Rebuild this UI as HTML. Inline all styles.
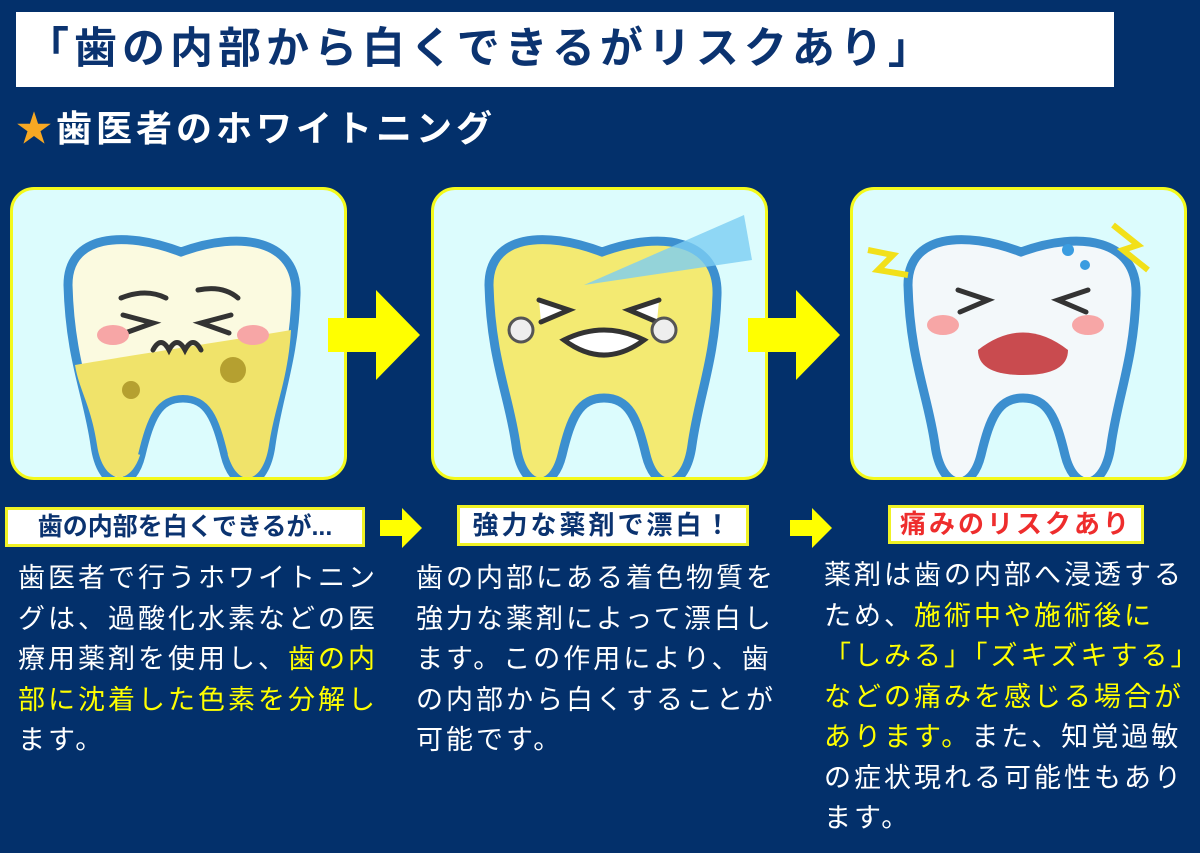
<!DOCTYPE html>
<html><head><meta charset="utf-8"><style>
*{margin:0;padding:0;box-sizing:border-box}
body{width:1200px;height:853px;background:#03306b;position:relative;overflow:hidden;font-family:"Liberation Sans","Noto Sans CJK JP",sans-serif;font-weight:bold}
.title{position:absolute;left:16px;top:12px;width:1098px;height:75px;background:#fff;color:#0b3370;font-size:43px;line-height:75px;padding-left:10px;letter-spacing:5px;white-space:nowrap}
.sub{position:absolute;left:16px;top:104px;color:#fff;font-size:36px;line-height:50px;letter-spacing:4px;white-space:nowrap}
.sub span{color:#f7a823}
.panel{position:absolute;top:187px;width:337px;height:293px;background:#dcfcfd;border:3px solid #f4f91c;border-radius:24px;overflow:hidden}
.arrow{position:absolute}
.lab{position:absolute;background:#fff;border:3px solid #f0f225;color:#0b3370;font-size:25px;text-align:center;white-space:nowrap}
.txt{position:absolute;color:#fff;font-size:27px;line-height:40.5px;font-weight:normal;letter-spacing:3px;white-space:nowrap}
.y{color:#ffff00}
</style></head><body>
<div class="title">「歯の内部から白くできるがリスクあり」</div>
<div class="sub"><span>★</span>歯医者のホワイトニング</div>

<svg width="0" height="0" style="position:absolute"><defs>
<path id="tooth" d="M55,95 C55,45 110,40 168,62 C228,40 285,50 283,105 C281,170 265,205 258,255 C252,300 222,305 212,265 C203,228 195,208 170,208 C145,208 137,228 128,265 C118,305 88,300 82,255 C75,205 57,170 55,95 Z"/>
</defs></svg>

<div class="panel" style="left:10px"><svg width="337" height="293">
<use href="#tooth" fill="#fbfae0" stroke="#3c8fcf" stroke-width="9"/>
<path d="M62,175 C120,165 220,150 278,140 C275,190 262,215 256,255 C250,295 224,300 214,262 C205,228 195,208 170,208 C145,208 137,228 128,262 C118,298 90,295 84,255 C78,215 66,200 62,175Z" fill="#f0e36a"/>
<path d="M128,265 C137,228 145,208 170,208 C195,208 203,228 212,265" fill="none" stroke="#3c8fcf" stroke-width="6"/>
<circle cx="118" cy="200" r="9" fill="#b5a030"/><circle cx="220" cy="180" r="13" fill="#b5a030"/>
<path d="M108,108 q25,-10 45,0 M185,100 q25,-5 40,8 M110,125 l30,8 l-28,10 M218,125 l-30,8 l28,10 M140,160 q8,-15 16,0 q8,-15 16,0 q8,-15 16,0" stroke="#333" stroke-width="5" fill="none" stroke-linecap="round"/>
<ellipse cx="100" cy="145" rx="16" ry="10" fill="#f7a6a6"/><ellipse cx="240" cy="145" rx="16" ry="10" fill="#f7a6a6"/>
</svg></div>

<div class="panel" style="left:431px"><svg width="337" height="293">
<use href="#tooth" fill="#f3ea72" stroke="#3c8fcf" stroke-width="9"/>
<path d="M128,265 C137,228 145,208 170,208 C195,208 203,228 212,265" fill="none" stroke="#3c8fcf" stroke-width="6"/>
<path d="M150,95 L310,25 L318,70 Z" fill="#7ccdf3" opacity=".8"/>
<path d="M105,110 l30,10 l-28,12 M225,110 l-30,10 l28,12 M130,150 q40,-20 80,0 q-40,30 -80,0z" stroke="#333" stroke-width="5" fill="#fff" stroke-linecap="round"/>
<circle cx="87" cy="140" r="12" fill="#eee" stroke="#555" stroke-width="3"/><circle cx="230" cy="140" r="12" fill="#eee" stroke="#555" stroke-width="3"/>
</svg></div>

<div class="panel" style="left:850px"><svg width="337" height="293">
<use href="#tooth" fill="#f3f8fa" stroke="#3c8fcf" stroke-width="9"/>
<path d="M128,265 C137,228 145,208 170,208 C195,208 203,228 212,265" fill="none" stroke="#3c8fcf" stroke-width="6"/>
<path d="M105,100 l30,10 l-28,12 M235,100 l-30,10 l28,12" stroke="#333" stroke-width="5" fill="none" stroke-linecap="round"/>
<path d="M125,160 q45,-35 90,0 q0,25 -45,25 q-45,0 -45,-25z" fill="#c94b4f"/>
<ellipse cx="90" cy="135" rx="16" ry="10" fill="#f7a6a6"/><ellipse cx="235" cy="135" rx="16" ry="10" fill="#f7a6a6"/>
<path d="M15,60 l25,5 l-15,15 l30,5 M260,35 l25,20 l-15,5 l25,20" stroke="#f2e01a" stroke-width="6" fill="none"/>
<circle cx="215" cy="60" r="6" fill="#3a9ce0"/><circle cx="232" cy="75" r="5" fill="#3a9ce0"/>
</svg></div>

<svg class="arrow" style="left:328px;top:290px" width="95" height="90"><path d="M0,28 H48 V0 L92,45 L48,90 V62 H0Z" fill="#ffff00"/></svg>
<svg class="arrow" style="left:748px;top:290px" width="95" height="90"><path d="M0,28 H48 V0 L92,45 L48,90 V62 H0Z" fill="#ffff00"/></svg>
<svg class="arrow" style="left:380px;top:508px" width="42" height="40"><path d="M0,12 H22 V0 L42,20 L22,40 V28 H0Z" fill="#ffff00"/></svg>
<svg class="arrow" style="left:790px;top:508px" width="42" height="40"><path d="M0,12 H22 V0 L42,20 L22,40 V28 H0Z" fill="#ffff00"/></svg>

<div class="lab" style="left:5px;top:507px;width:360px;height:40px;line-height:34px;font-size:25px;letter-spacing:0px">歯の内部を白くできるが...</div>
<div class="lab" style="left:457px;top:505px;width:292px;height:41px;line-height:35px;font-size:26px;letter-spacing:3px">強力な薬剤で漂白！</div>
<div class="lab" style="left:888px;top:505px;width:256px;height:39px;line-height:33px;color:#ee2d2d;font-size:26px;letter-spacing:3px">痛みのリスクあり</div>

<div class="txt" style="left:18px;top:558px">歯医者で行うホワイトニン<br>グは、過酸化水素などの医<br>療用薬剤を使用し、<span class="y">歯の内</span><br><span class="y">部に沈着した色素を分解し</span><br>ます。</div>
<div class="txt" style="left:416px;top:558px">歯の内部にある着色物質を<br>強力な薬剤によって漂白し<br>ます。この作用により、歯<br>の内部から白くすることが<br>可能です。</div>
<div class="txt" style="left:824px;top:555px">薬剤は歯の内部へ浸透する<br>ため、<span class="y">施術中や施術後に</span><br><span class="y">「しみる」「ズキズキする」</span><br><span class="y">などの痛みを感じる場合が</span><br><span class="y">あります。</span>また、知覚過敏<br>の症状現れる可能性もあり<br>ます。</div>
</body></html>
